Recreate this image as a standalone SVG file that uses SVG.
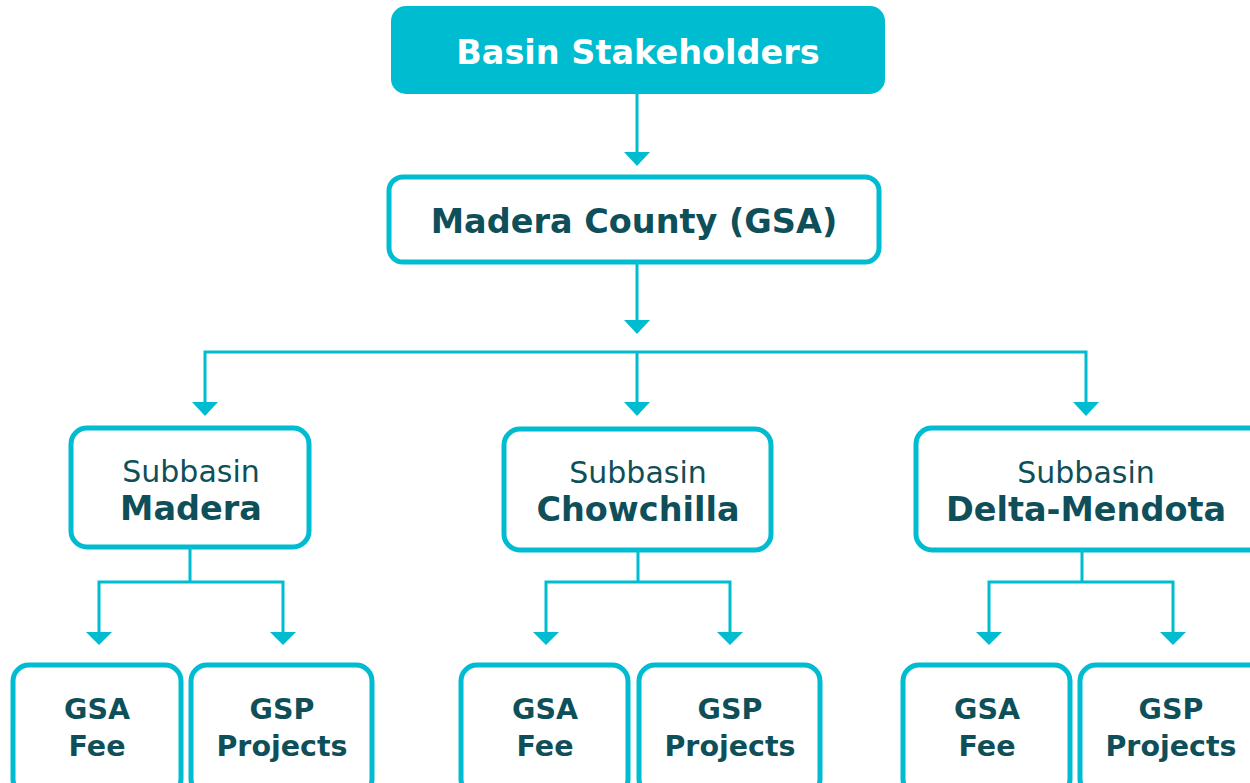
<svg xmlns="http://www.w3.org/2000/svg" width="1250" height="783" viewBox="0 0 1250 783">
<defs>
<style>
.box{fill:#fff;stroke:#00BCD0;stroke-width:5}
.top{fill:#00BCD0}
.ln{fill:none;stroke:#00BCD0;stroke-width:3}
.ah{fill:#00BCD0}
text{font-family:"DejaVu Sans","Noto Sans",sans-serif;text-anchor:middle;fill:#0E4F5A}
.w{fill:#fff}
.l1{font-size:33.5px;font-weight:bold}
.l2{font-size:30px}
.l3{font-size:28.5px;font-weight:bold}
</style>
</defs>
<rect width="1250" height="783" fill="#fff"/>
<g id="connectors">
<path class="ln" d="M637 94V156"/>
<path class="ah" d="M624 152H650L637 166Z"/>
<path class="ln" d="M637 262V324"/>
<path class="ah" d="M624 320H650L637 334Z"/>
<path class="ln" d="M205 404V352H1086V404M637 352V404"/>
<path class="ah" d="M192 402H218L205 416Z"/>
<path class="ah" d="M624 402H650L637 416Z"/>
<path class="ah" d="M1073 402H1099L1086 416Z"/>
<path class="ln" d="M190 547V582M99 634V582H283V634"/>
<path class="ah" d="M86 632H112L99 645Z"/>
<path class="ah" d="M270 632H296L283 645Z"/>
<path class="ln" d="M638 550V582M546 634V582H730V634"/>
<path class="ah" d="M533 632H559L546 645Z"/>
<path class="ah" d="M717 632H743L730 645Z"/>
<path class="ln" d="M1082 550V582M989 634V582H1173V634"/>
<path class="ah" d="M976 632H1002L989 645Z"/>
<path class="ah" d="M1160 632H1186L1173 645Z"/>
</g>
<g id="basin">
<rect class="top" x="391" y="6" width="494" height="88" rx="15"/>
<text class="l1 w" x="638" y="64">Basin Stakeholders</text>
</g>
<g id="county">
<rect class="box" x="389" y="177" width="490" height="85" rx="14"/>
<text class="l1" x="634" y="233">Madera County (GSA)</text>
</g>
<g id="sub-madera">
<rect class="box" x="71" y="428" width="238" height="119" rx="16"/>
<text class="l2" x="191" y="482">Subbasin</text>
<text class="l1" x="191" y="520">Madera</text>
</g>
<g id="sub-chowchilla">
<rect class="box" x="504" y="429" width="267" height="121" rx="16"/>
<text class="l2" x="638" y="483">Subbasin</text>
<text class="l1" x="638" y="521">Chowchilla</text>
</g>
<g id="sub-delta">
<rect class="box" x="916" y="428" width="350" height="122" rx="16"/>
<text class="l2" x="1086" y="483">Subbasin</text>
<text class="l1" x="1086" y="521">Delta-Mendota</text>
</g>
<g id="madera-fee">
<rect class="box" x="13" y="665" width="168" height="130" rx="16"/>
<text class="l3" x="97" y="719">GSA</text>
<text class="l3" x="97" y="756">Fee</text>
</g>
<g id="madera-proj">
<rect class="box" x="191" y="665" width="181" height="130" rx="16"/>
<text class="l3" x="282" y="719">GSP</text>
<text class="l3" x="282" y="756">Projects</text>
</g>
<g id="chow-fee">
<rect class="box" x="461" y="665" width="167" height="130" rx="16"/>
<text class="l3" x="545" y="719">GSA</text>
<text class="l3" x="545" y="756">Fee</text>
</g>
<g id="chow-proj">
<rect class="box" x="639" y="665" width="181" height="130" rx="16"/>
<text class="l3" x="730" y="719">GSP</text>
<text class="l3" x="730" y="756">Projects</text>
</g>
<g id="delta-fee">
<rect class="box" x="903" y="665" width="167" height="130" rx="16"/>
<text class="l3" x="987" y="719">GSA</text>
<text class="l3" x="987" y="756">Fee</text>
</g>
<g id="delta-proj">
<rect class="box" x="1080" y="665" width="190" height="130" rx="16"/>
<text class="l3" x="1171" y="719">GSP</text>
<text class="l3" x="1171" y="756">Projects</text>
</g>
</svg>
